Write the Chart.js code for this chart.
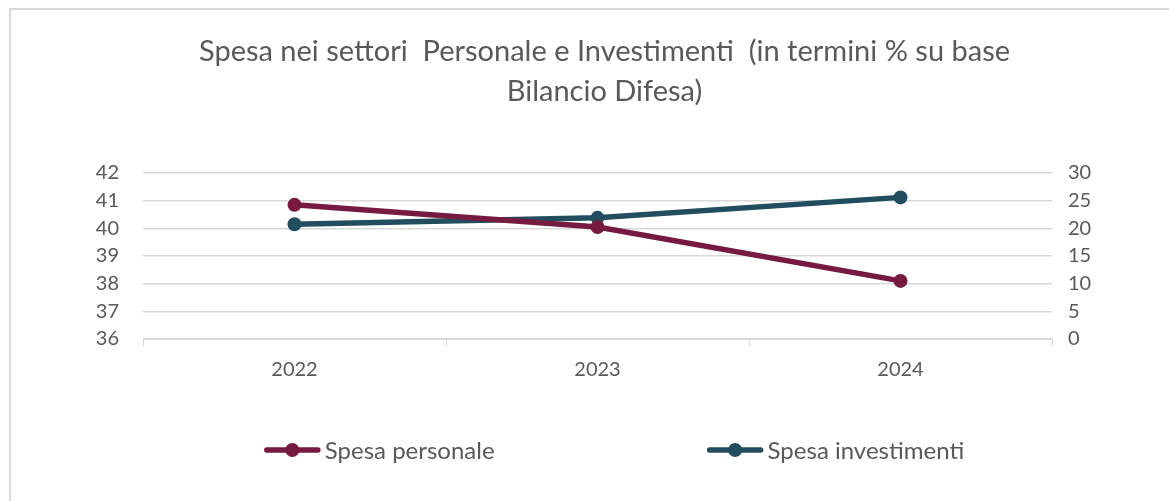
<!DOCTYPE html>
<html>
<head>
<meta charset="utf-8">
<script src="https://cdn.jsdelivr.net/npm/chart.js@4"></script>
<style>
  html, body { margin: 0; padding: 0; background: #fff; }
  #wrap { position: relative; width: 1169px; height: 501px; overflow: hidden; }
  #frame { position: absolute; left: 9px; top: 8px; width: 1200px; height: 600px;
           border-left: 2px solid #d9d9d9; border-top: 2px solid #d9d9d9; }
  canvas { position: absolute; left: 0; top: 0; }
</style>
</head>
<body>
<div id="wrap">
  <div id="frame"></div>
  <canvas id="speseChart" width="1169" height="501"></canvas>
</div>
<script>
// dati
const years = ['2022', '2023', '2024'];
const spesaPersonale = [40.85, 40.05, 38.1];
const spesaInvestimenti = [20.75, 21.9, 25.6];
const titleLines = ['Spesa nei settori  Personale e Investimenti  (in termini % su base', 'Bilancio Difesa)'];

const TEXT = '#595959';
const GRID = '#d9d9d9';
const FONT = "Lato, 'Open Sans', sans-serif";

// legenda in basso, stile Excel (linea + pallino)
const bottomLegend = {
  id: 'bottomLegend',
  afterDraw(chart) {
    const ctx = chart.ctx;
    const y = 450, markW = 57, txtGap = 4, itemGap = 212, center = 614;
    ctx.save();
    ctx.font = `24px ${FONT}`;
    const items = chart.data.datasets.map(ds => ({
      ds, w: markW + txtGap + ctx.measureText(ds.label).width,
    }));
    const total = items.reduce((s, it) => s + it.w, 0) + itemGap * (items.length - 1);
    let x = center - total / 2;
    items.forEach(({ ds, w }) => {
      ctx.strokeStyle = ds.borderColor;
      ctx.lineWidth = 5.5;
      ctx.lineCap = 'round';
      ctx.beginPath();
      ctx.moveTo(x + 3, y);
      ctx.lineTo(x + markW - 3, y);
      ctx.stroke();
      ctx.fillStyle = ds.borderColor;
      ctx.beginPath();
      ctx.arc(x + markW / 2, y, 7, 0, Math.PI * 2);
      ctx.fill();
      ctx.fillStyle = TEXT;
      ctx.textBaseline = 'middle';
      ctx.textAlign = 'left';
      ctx.fillText(ds.label, x + markW + txtGap, y + 1);
      x += w + itemGap;
    });
    ctx.restore();
  },
};

new Chart(document.getElementById('speseChart'), {
  type: 'line',
  data: {
    labels: years,
    datasets: [
      {
        label: 'Spesa personale',
        data: spesaPersonale,
        borderColor: '#761a3f',
        backgroundColor: '#761a3f',
        borderWidth: 5.5,
        pointRadius: 7,
        pointBorderWidth: 0,
        tension: 0,
        yAxisID: 'y',
      },
      {
        label: 'Spesa investimenti',
        data: spesaInvestimenti,
        borderColor: '#214d5e',
        backgroundColor: '#214d5e',
        borderWidth: 5.5,
        pointRadius: 7,
        pointBorderWidth: 0,
        tension: 0,
        yAxisID: 'y1',
      },
    ],
  },
  options: {
    responsive: false,
    animation: false,
    layout: { padding: { left: 40, right: 0, top: 0, bottom: 107 } },
    plugins: {
      legend: { display: false },
      tooltip: { enabled: false },
      title: {
        display: true,
        text: titleLines,
        color: TEXT,
        font: { family: FONT, size: 29, weight: 'normal', lineHeight: 1.38 },
        padding: { top: 32, bottom: 61 },
      },
    },
    scales: {
      x: {
        offset: true,
        grid: { offset: true, drawOnChartArea: false, drawTicks: true, tickLength: 7, color: GRID },
        border: { display: true, color: GRID },
        ticks: { color: TEXT, font: { family: FONT, size: 20 }, padding: 12 },
      },
      y: {
        position: 'left',
        min: 36, max: 42,
        afterFit: s => { s.width = 103; },
        grid: { color: GRID, drawTicks: false, lineWidth: 1.5 },
        border: { display: false },
        ticks: { color: TEXT, font: { family: FONT, size: 20 }, stepSize: 1, padding: 24, autoSkip: false },
      },
      y1: {
        position: 'right',
        min: 0, max: 30,
        afterFit: s => { s.width = 117; },
        grid: { display: false },
        border: { display: false },
        ticks: { color: TEXT, font: { family: FONT, size: 20 }, stepSize: 5, padding: 8, autoSkip: false },
      },
    },
  },
  plugins: [bottomLegend],
});
</script>
</body>
</html>
